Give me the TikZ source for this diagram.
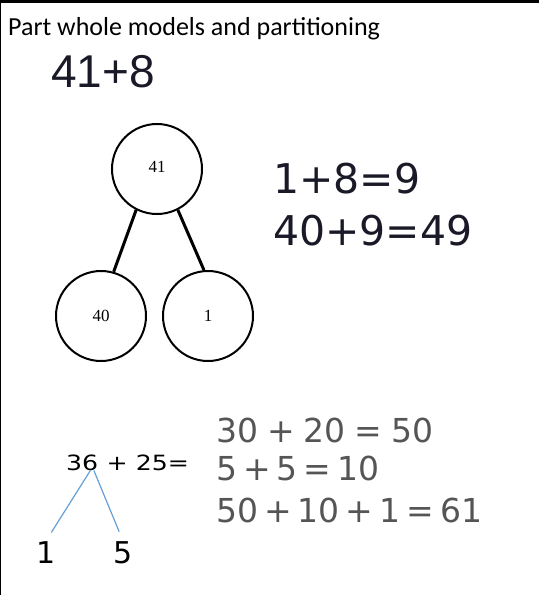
\documentclass[tikz,border=0pt]{standalone}
\usepackage{fontspec}
\setmainfont{Carlito}
\newfontfamily\eqfont{DejaVu Sans}
\newfontfamily\handfont[FakeStretch=1.2]{DejaVu Sans}
\newfontfamily\sumfont{Liberation Sans}
\newfontfamily\circfont{Liberation Serif}
\usepackage{tikz}

\definecolor{eqgray}{RGB}{85,85,85}
\definecolor{eqdark}{RGB}{25,25,40}
\definecolor{splitblue}{RGB}{100,160,215}

\newcommand{\eqgap}{\hspace{6pt}}
\newcommand{\widegap}{\hspace{9pt}}

\begin{document}
\begin{tikzpicture}[
    x=1pt, y=-1pt,
    part/.style={circle, draw, line width=2pt, minimum size=90pt, inner sep=0pt,
                 font=\circfont\fontsize{17}{17}\selectfont},
    eq/.style={anchor=base west, inner sep=0pt, text=eqdark,
               font=\eqfont\fontsize{41}{41}\selectfont},
    greyeq/.style={anchor=base west, inner sep=0pt, text=eqgray,
                   font=\eqfont\fontsize{33}{33}\selectfont},
    hand/.style={anchor=base west, inner sep=0pt,
                 font=\handfont\fontsize{21}{21}\selectfont}
]
\useasboundingbox (0,0) rectangle (539,595);
\draw[line width=2.5pt] (0,595) -- (0,1.25) -- (539,1.25);

\node[anchor=base west, inner sep=0pt, font=\fontsize{26}{26}\selectfont] (title) at (8,35)
    {Part whole models and partitioning};
\node[anchor=base west, inner sep=0pt, text=eqdark, font=\sumfont\fontsize{46}{46}\selectfont]
    (task) at (51,87) {41+8};

% part whole model
\node[part] (n41) at (157,169) {\raisebox{5pt}{41}};
\node[part] (n40) at (101,316) {40};
\node[part] (n1) at (208,316) {1};
\draw[line width=3pt] (n41.243) -- (n40.74);
\draw[line width=3pt] (n41.297) -- (n1.95);

\node[eq] (eqa) at (273,193) {1+8=9};
\node[eq] (eqb) at (273,245) {40+9=49};

% partitioning
\node[hand] (n36) at (66,470) {36};
\node[hand] (rest) at (n36.base east) {\ + 25=};
\node[anchor=base, inner sep=0pt, font=\eqfont\fontsize{30}{30}\selectfont] (p1) at (46,563) {1};
\node[anchor=base, inner sep=0pt, font=\eqfont\fontsize{30}{30}\selectfont] (p5) at (123,563) {5};
\draw[splitblue, line width=1.2pt, shorten >=10pt] (n36.-45) -- (p1.north);
\draw[splitblue, line width=1.2pt, shorten >=10pt] (n36.-35) -- (p5.north);

\node[greyeq] (eqc) at (216,442) {30\widegap+\widegap20\widegap=\widegap50};
\node[greyeq] (eqd) at (216,480) {5\eqgap+\eqgap5\eqgap=\eqgap10};
\node[greyeq] (eqe) at (216,522) {50\eqgap+\eqgap10\eqgap+\eqgap1\eqgap=\eqgap61};
\end{tikzpicture}
\end{document}
